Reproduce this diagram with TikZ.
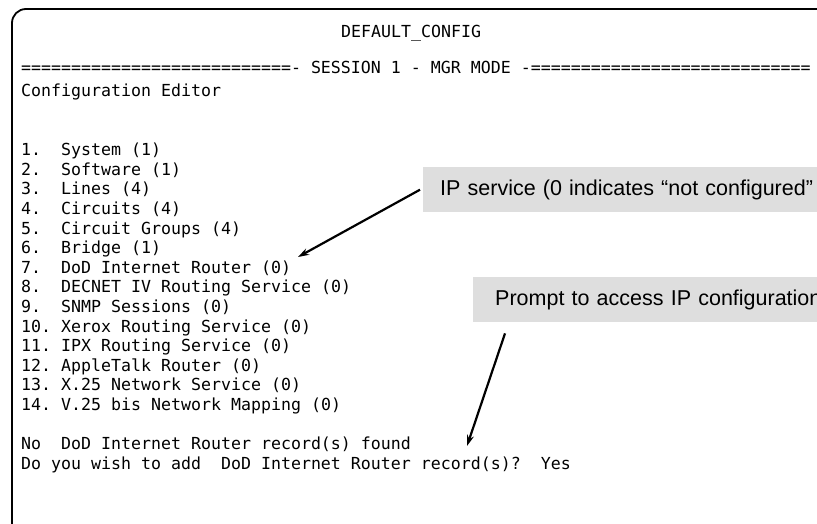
\documentclass[tikz,border=0pt]{standalone}
\usepackage{fontspec}
\setmainfont{Liberation Sans}
\newfontfamily\termfont{DejaVu Sans Mono}
\usetikzlibrary{arrows.meta}
\definecolor{notegray}{RGB}{222,222,222}
\tikzset{
  term/.style={font=\termfont\fontsize{16.6}{19.6}\selectfont\frenchspacing, inner sep=0pt, anchor=base west},
  note/.style={fill=notegray, font=\fontsize{21.5}{24}\selectfont, text width=460pt, align=left,
    minimum height=45pt, inner ysep=0pt, anchor=north west},
  pointer/.style={line width=2.2pt, -{Stealth[length=11pt,width=7pt]}}
}
\begin{document}
\begin{tikzpicture}[x=1pt,y=-1pt]
  \path[use as bounding box, clip] (0,0) rectangle (817,524);
  \draw[line width=1.8pt, rounded corners=14pt] (12,9) rectangle (860,560);
  % screen rows, 10pt per column, 19.6pt per row
  \node[term] (title) at (341,38) {DEFAULT\_CONFIG};
  \node[term] (banner) at (21,74) {===========================- SESSION 1 - MGR MODE -============================};
  \node[term] (editor) at (21,{38+19.6*3}) {Configuration Editor};
  \foreach \entry [count=\k] in {System (1), Software (1), Lines (4), Circuits (4), Circuit Groups (4),
      Bridge (1), DoD Internet Router (0), DECNET IV Routing Service (0), SNMP Sessions (0),
      Xerox Routing Service (0), IPX Routing Service (0), AppleTalk Router (0),
      X.25 Network Service (0), V.25 bis Network Mapping (0)}{
    \node[term] (num\k) at (21,{38+19.6*(\k+5)}) {\k.};
    \node[term] (item\k) at (61,{38+19.6*(\k+5)}) {\entry};
  }
  \node[term] (nofound) at (21,{38+19.6*21}) {No\ \ DoD Internet Router record(s) found};
  \node[term] (askadd) at (21,{38+19.6*22}) {Do you wish to add\ \ DoD Internet Router record(s)?\ \ Yes};

  \node[note, inner xsep=17pt] (ipnote) at (423,167) {IP service (0 indicates ``not configured''};
  \node[note, inner xsep=22pt] (promptnote) at (473,277) {Prompt to access IP configuration};
  \coordinate (iptip) at (298,257);
  \coordinate (prompttip) at (467,446);
  \draw[pointer] ([xshift=-3pt]ipnote.west) -- (iptip);
  \draw[pointer] ([xshift=32pt,yshift=-11pt]promptnote.south west) -- (prompttip);
\end{tikzpicture}
\end{document}
